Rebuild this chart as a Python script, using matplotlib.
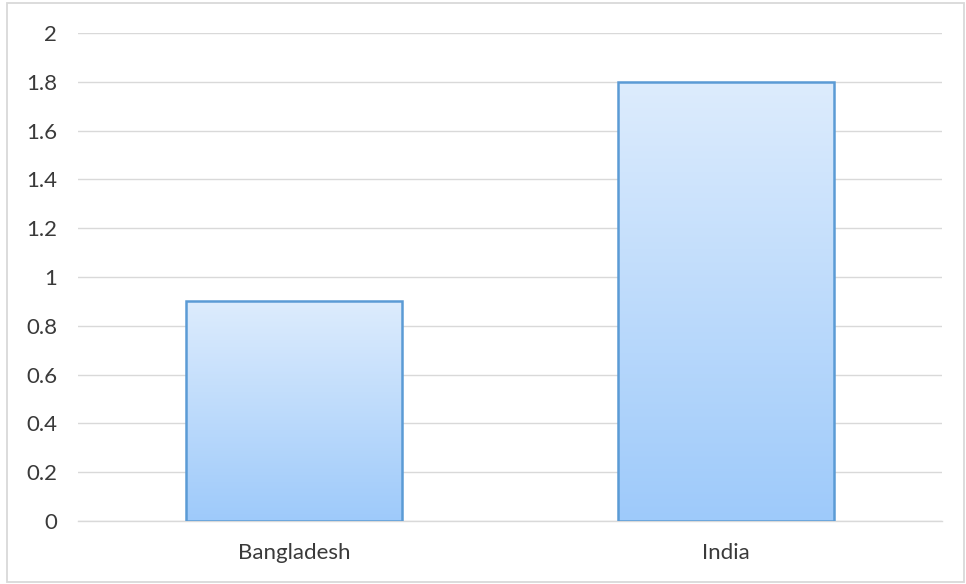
import matplotlib

matplotlib.use("Agg")

import matplotlib.pyplot as plt
import numpy as np
from matplotlib.colors import LinearSegmentedColormap
from matplotlib.patches import Rectangle

countries = ["Bangladesh", "India"]
values = [0.9, 1.8]
y_ticks = [0, 0.2, 0.4, 0.6, 0.8, 1, 1.2, 1.4, 1.6, 1.8, 2]
y_tick_labels = ["0", "0.2", "0.4", "0.6", "0.8", "1", "1.2", "1.4", "1.6", "1.8", "2"]

W, H = 966, 584
plt.rcParams["font.family"] = ["Lato", "DejaVu Sans"]

fig = plt.figure(figsize=(W / 100, H / 100), dpi=100)
# outer chart border
fig.patches.append(
    Rectangle((7 / W, 2 / H), 957 / W, 579 / H, transform=fig.transFigure,
              facecolor="none", edgecolor="#d9d9d9", linewidth=1.3, zorder=-1)
)
ax = fig.add_axes([78 / W, (H - 521) / H, 864 / W, 488 / H])
ax.set_facecolor("none")

x = np.arange(len(countries))
bars = ax.bar(x, values, width=0.5, facecolor="none", edgecolor="#5b9bd5",
              linewidth=1.8, zorder=3)

# vertical gradient fill clipped to each bar
grad_cmap = LinearSegmentedColormap.from_list("bar_grad", ["#9ecafa", "#ddecfd"])
gradient = np.linspace(0, 1, 256).reshape(-1, 1)
for bar in bars:
    bx, by = bar.get_x(), bar.get_y()
    im = ax.imshow(gradient, cmap=grad_cmap, origin="lower", aspect="auto",
                   extent=(bx, bx + bar.get_width(), by, by + bar.get_height()),
                   zorder=2)
    im.set_clip_path(bar)

ax.set_xlim(-0.5, len(countries) - 0.5)
ax.set_ylim(0, 2)
ax.set_xticks(x)
ax.set_xticklabels(countries)
ax.set_yticks(y_ticks)
ax.set_yticklabels(y_tick_labels)
ax.tick_params(axis="both", length=0, labelsize=16, colors="#3a3a3a")
ax.tick_params(axis="y", pad=15)
ax.tick_params(axis="x", pad=15.5)
ax.grid(axis="y", color="#d9d9d9", linewidth=1)
ax.set_axisbelow(True)
for side in ["top", "right", "left"]:
    ax.spines[side].set_visible(False)
ax.spines["bottom"].set_color("#d9d9d9")
ax.spines["bottom"].set_linewidth(1)

fig.savefig("out.png", dpi=100)
